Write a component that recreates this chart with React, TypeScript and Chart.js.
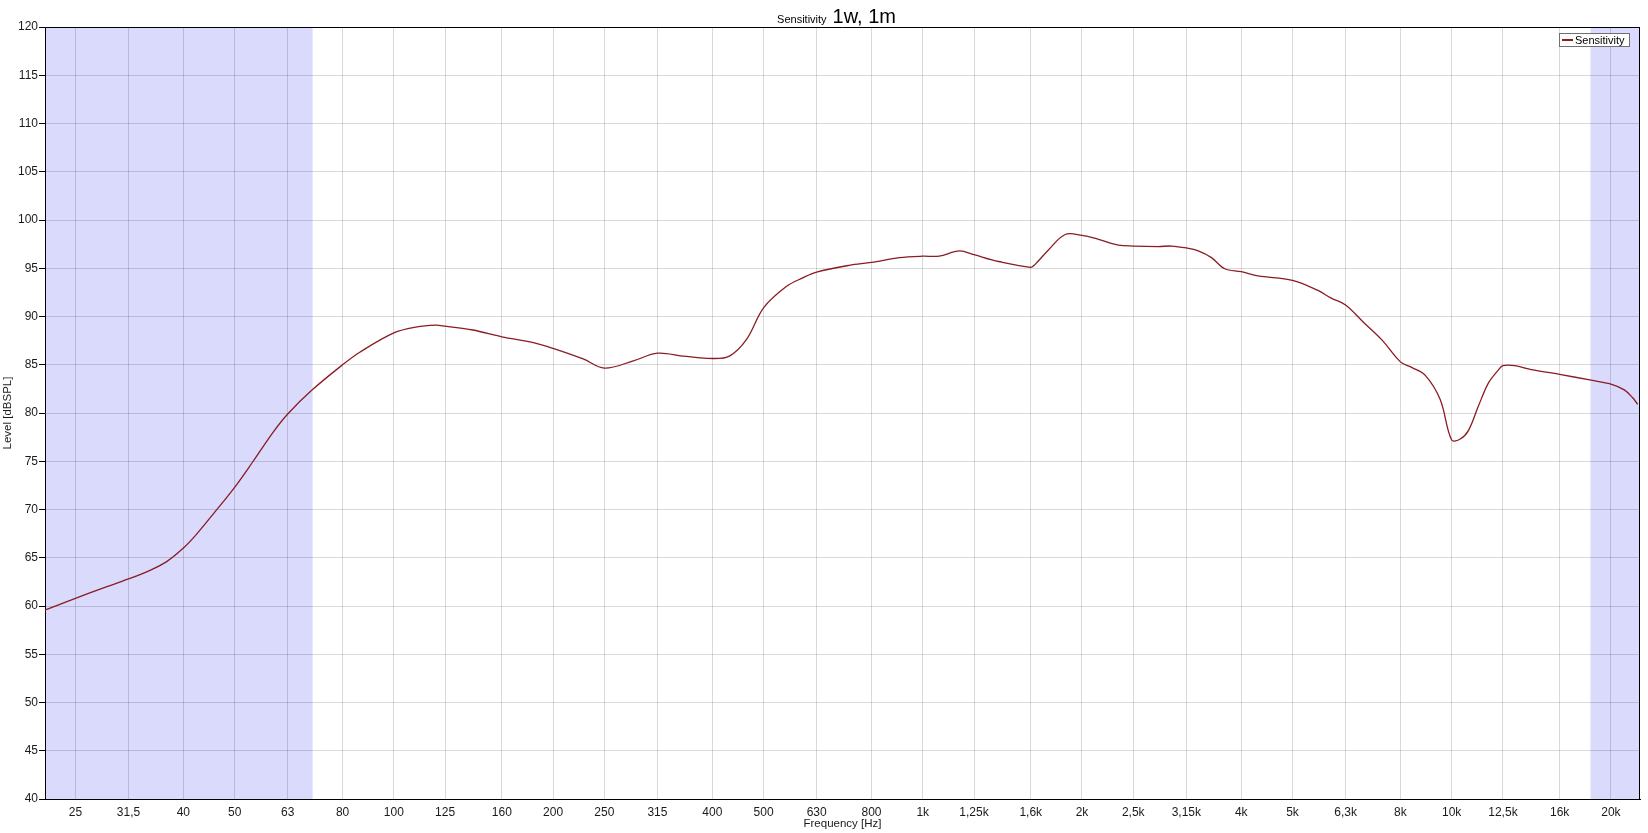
import { useEffect, useRef } from "react";
import { Chart, registerables } from "chart.js";

Chart.register(...registerables);

// ---- data ----
const FREQUENCIES = [
  21.9, 22.2, 25, 28, 31.5, 34.6, 37.2, 40, 42.3, 45.5, 50, 54.2, 59.1, 63, 70.1, 80, 86.2, 100, 110, 120,
  125, 141, 160, 183.5, 200, 228, 250, 283.6, 315, 352, 400, 431, 464, 500, 552, 593, 630, 726, 800, 903,
  1000, 1074, 1173, 1250, 1391, 1600, 1631, 1728, 1859, 2000, 2149, 2344, 2500, 2788, 2954, 3150, 3318,
  3514, 3724, 4000, 4307, 5000, 5589, 5919, 6300, 6841, 7400, 8000, 8416, 8915, 9512, 10000, 10380, 10760,
  11230, 11730, 12250, 12500, 13160, 14140, 16000, 18350, 20000, 21200, 21970, 22460,
];
const LEVELS = [
  59.6, 59.7, 60.8, 61.8, 62.8, 63.7, 64.6, 66.0, 67.4, 69.5, 72.3, 75.0, 78.0, 79.9, 82.4, 85.0, 86.3, 88.3, 88.9, 89.1,
  89.0, 88.6, 87.9, 87.3, 86.7, 85.6, 84.65, 85.4, 86.2, 85.9, 85.65, 85.9, 87.6, 90.9, 93.1, 94.0, 94.6, 95.3, 95.6, 96.1,
  96.25, 96.25, 96.8, 96.4, 95.7, 95.1, 95.4, 96.9, 98.5, 98.4, 98.0, 97.4, 97.3, 97.25, 97.3, 97.1, 96.8,
  96.1, 94.95, 94.65, 94.2, 93.75, 92.7, 91.9, 91.2, 89.3, 87.5, 85.3, 84.7, 83.9, 81.4, 77.2, 77.3, 78.2,
  80.7, 83.1, 84.45, 84.9, 84.9, 84.5, 84.0, 83.4, 83.0, 82.4, 81.6, 80.9,
];
const X_TICK_VALUES = [
  25, 31.5, 40, 50, 63, 80, 100, 125, 160, 200, 250, 315, 400, 500, 630, 800, 1000, 1250, 1600, 2000,
  2500, 3150, 4000, 5000, 6300, 8000, 10000, 12500, 16000, 20000,
];
const X_TICK_LABELS = [
  "25", "31,5", "40", "50", "63", "80", "100", "125", "160", "200", "250", "315", "400", "500", "630", "800",
  "1k", "1,25k", "1,6k", "2k", "2,5k", "3,15k", "4k", "5k", "6,3k", "8k", "10k", "12,5k", "16k", "20k",
];
const X_RANGE = [21.9, 22700];
const Y_RANGE = [40, 120];
const Y_STEP = 5;
const SHADED_LOW = [21.9, 70.2];
const SHADED_HIGH = [18300, 22700];
const TITLE_SMALL = "Sensitivity";
const TITLE_BIG = "1w, 1m";
const SERIES_NAME = "Sensitivity";
const X_TITLE = "Frequency [Hz]";
const Y_TITLE = "Level [dBSPL]";

const FONT = "'Liberation Sans', Arial, sans-serif";
const LINE_COLOR = "#8a1c22";

const decorPlugin = {
  id: "decor",
  beforeDraw(chart: any) {
    const { ctx, chartArea } = chart;
    const x = chart.scales.x;
    ctx.save();
    ctx.fillStyle = "#dadafc";
    for (const [a, b] of [SHADED_LOW, SHADED_HIGH]) {
      const x1 = x.getPixelForValue(a);
      const x2 = x.getPixelForValue(b);
      ctx.fillRect(x1, chartArea.top, x2 - x1, chartArea.bottom - chartArea.top);
    }
    ctx.restore();
  },
  afterDraw(chart: any) {
    const { ctx, chartArea } = chart;
    ctx.save();
    // top & right frame
    ctx.strokeStyle = "#000";
    ctx.lineWidth = 1;
    ctx.beginPath();
    ctx.moveTo(chartArea.left, chartArea.top + 0.5);
    ctx.lineTo(chartArea.right, chartArea.top + 0.5);
    ctx.moveTo(chartArea.right - 0.5, chartArea.top);
    ctx.lineTo(chartArea.right - 0.5, chartArea.bottom);
    ctx.stroke();

    // title (mixed sizes)
    ctx.fillStyle = "#000";
    ctx.textBaseline = "alphabetic";
    ctx.textAlign = "left";
    ctx.font = `11px ${FONT}`;
    const wSmall = ctx.measureText(TITLE_SMALL).width;
    ctx.font = `20px ${FONT}`;
    const wBig = ctx.measureText(TITLE_BIG).width;
    const gap = 6;
    const total = wSmall + gap + wBig;
    const cx = (chartArea.left + chartArea.right) / 2 - 6;
    const startX = cx - total / 2;
    const baseY = chartArea.top - 4.5;
    ctx.font = `11px ${FONT}`;
    ctx.fillText(TITLE_SMALL, startX, baseY);
    ctx.font = `20px ${FONT}`;
    ctx.fillText(TITLE_BIG, startX + wSmall + gap, baseY);

    // legend box
    ctx.font = `11px ${FONT}`;
    const tw = ctx.measureText(SERIES_NAME).width;
    const boxW = Math.round(tw + 20);
    const boxH = 13;
    const bx = chartArea.right - 11 - boxW;
    const by = chartArea.top + 6;
    ctx.fillStyle = "#fff";
    ctx.fillRect(bx, by, boxW, boxH);
    ctx.strokeStyle = "#707070";
    ctx.strokeRect(bx + 0.5, by + 0.5, boxW, boxH);
    ctx.strokeStyle = LINE_COLOR;
    ctx.lineWidth = 2;
    ctx.beginPath();
    ctx.moveTo(bx + 3, by + boxH / 2 + 0.5);
    ctx.lineTo(bx + 14, by + boxH / 2 + 0.5);
    ctx.stroke();
    ctx.fillStyle = "#000";
    ctx.textBaseline = "middle";
    ctx.fillText(SERIES_NAME, bx + 16, by + boxH / 2 + 1);
    ctx.restore();
  },
};

export default function App() {
  const canvasRef = useRef<HTMLCanvasElement | null>(null);

  useEffect(() => {
    const canvas = canvasRef.current;
    if (!canvas) return;
    const points = FREQUENCIES.map((f, i) => ({ x: f, y: LEVELS[i] }));
    const chart = new Chart(canvas, {
      type: "line",
      data: {
        datasets: [
          {
            label: SERIES_NAME,
            data: points,
            borderColor: LINE_COLOR,
            backgroundColor: LINE_COLOR,
            borderWidth: 1.3,
            pointRadius: 0,
            tension: 0.35,
            fill: false,
          },
        ],
      },
      options: {
        animation: false,
        responsive: false,
        devicePixelRatio: 1,
        layout: { padding: { top: 27, right: 8, left: 0, bottom: 0 } },
        plugins: {
          legend: { display: false },
          title: { display: false },
          tooltip: { enabled: false },
        },
        scales: {
          x: {
            type: "logarithmic",
            min: X_RANGE[0],
            max: X_RANGE[1],
            afterBuildTicks: (scale: any) => {
              scale.ticks = X_TICK_VALUES.map((v) => ({ value: v }));
            },
            afterFit: (scale: any) => {
              scale.height = 34;
            },
            ticks: {
              autoSkip: false,
              maxRotation: 0,
              minRotation: 0,
              padding: 6,
              color: "#1a1a1a",
              font: { family: FONT, size: 12 },
              callback: (_v: any, i: number) => X_TICK_LABELS[i],
            },
            grid: {
              color: "rgba(0,0,0,0.15)",
              lineWidth: 1,
              drawTicks: false,
            },
            border: { color: "#000", width: 1 },
            title: {
              display: true,
              text: X_TITLE,
              color: "#1a1a1a",
              font: { family: FONT, size: 11.5 },
              padding: { top: 0, bottom: 2 },
            },
          },
          y: {
            type: "linear",
            min: Y_RANGE[0],
            max: Y_RANGE[1],
            afterFit: (scale: any) => {
              scale.width = 45;
            },
            ticks: {
              stepSize: Y_STEP,
              padding: 1,
              color: "#1a1a1a",
              font: { family: FONT, size: 12 },
            },
            grid: {
              color: "rgba(0,0,0,0.15)",
              lineWidth: 1,
              drawTicks: true,
              tickLength: 6,
              tickColor: "#000",
            },
            border: { color: "#000", width: 1 },
            title: {
              display: true,
              text: Y_TITLE,
              color: "#1a1a1a",
              font: { family: FONT, size: 11.5 },
              padding: { top: 1, bottom: 0 },
            },
          },
        },
      },
      plugins: [decorPlugin],
    } as any);
    return () => chart.destroy();
  }, []);

  return (
    <div style={{ position: "absolute", left: 0, top: 0, width: 1648, height: 833, background: "#fff" }}>
      <canvas ref={canvasRef} width={1648} height={833} style={{ display: "block" }} />
    </div>
  );
}
